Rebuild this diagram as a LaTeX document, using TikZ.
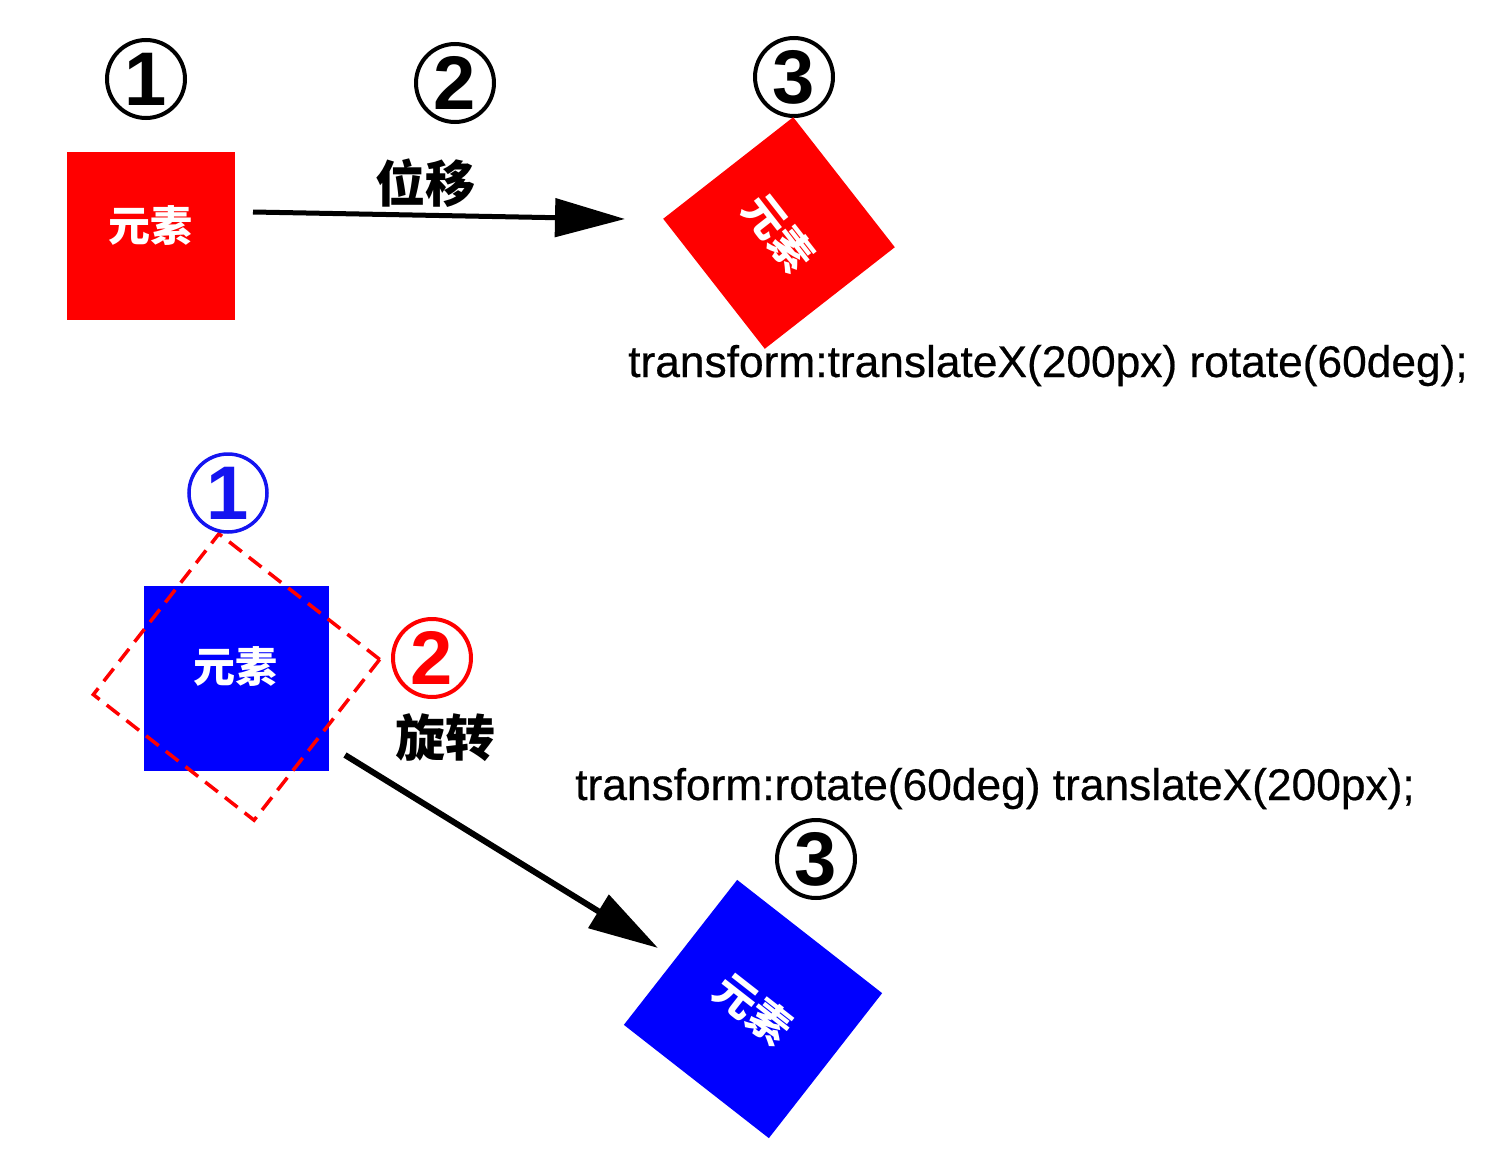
\documentclass[tikz,border=0pt]{standalone}
\usepackage{fontspec}
\setmainfont{Liberation Sans}
\newfontfamily\cjk{Noto Sans CJK SC}
\newfontfamily\codefont[FakeBold=0.5]{Liberation Sans}
\usetikzlibrary{arrows.meta}
\definecolor{pred}{RGB}{255,0,0}
\definecolor{pblue}{RGB}{0,0,255}
\definecolor{cblue}{RGB}{20,20,240}
\tikzset{
  box/.style={fill=#1, draw=none, minimum size=168pt, inner sep=0pt, outer sep=0pt},
  boxlabel/.style={text=white, font=\cjk\bfseries\fontsize{42}{42}\selectfont, inner sep=0pt},
  numcirc/.style={circle, draw=#1, text=#1, line width=4pt, minimum size=78pt, inner sep=0pt,
    font=\bfseries\fontsize{76}{76}\selectfont},
  cnlabel/.style={font=\cjk\bfseries\fontsize{50}{50}\selectfont, inner sep=0pt},
  code/.style={font=\codefont\fontsize{44.3}{44.3}\selectfont, inner sep=0pt, anchor=base west},
  bigarrow/.style={line width=#1, -{Triangle[length=70pt,width=38pt]}},
}
\begin{document}
\begin{tikzpicture}[x=1pt,y=-1pt]
\useasboundingbox[fill=white] (0,0) rectangle (1500,1172);

% ---------- top row ----------
\node[box=pred] (r1) at (151,235.5) {};
\node[boxlabel] (r1t) at (150,226) {元素};
\node[numcirc=black] (c1) at (146,79) {1};
\node[numcirc=black] (c2) at (455,83) {2};
\node[numcirc=black] (c3) at (794,77) {3};

\coordinate (a1s) at (253,212);
\coordinate (a1e) at (625,219);
\draw[bigarrow=5pt] (a1s) -- (a1e);
\node[cnlabel] (t1) at (425,183) {位移};

\node[box=pred, boxlabel, minimum size=165pt, rotate=-52] (r2) at (779,233) {元素};

\node[code] (code1) at (628,377) {transform:translateX(200px) rotate(60deg);};

% ---------- bottom row ----------
\node[box=pblue, minimum size=185pt] (b1) at (236.5,678.5) {};
\node[boxlabel] (b1t) at (235,667) {元素};
\node[draw=pred, dash pattern=on 16pt off 9pt, line width=3.5pt, minimum size=204pt,
      inner sep=0pt, rotate=-38] (dz) at (236.5,677) {};
\node[numcirc=cblue, line width=3.5pt] (bc1) at (228,493) {1};
\node[numcirc=pred] (bc2) at (432,658) {2};
\node[cnlabel] (t2) at (445,738) {旋转};

\coordinate (a2s) at (345,755);
\coordinate (a2e) at (658,948);
\draw[bigarrow=6pt] (a2s) -- (a2e);

\node[code] (code2) at (575,800) {transform:rotate(60deg) translateX(200px);};
\node[numcirc=black] (bc3) at (816,859) {3};

\node[box=pblue, boxlabel, minimum size=184pt, rotate=-38] (b2) at (753,1009) {元素};
\end{tikzpicture}
\end{document}
